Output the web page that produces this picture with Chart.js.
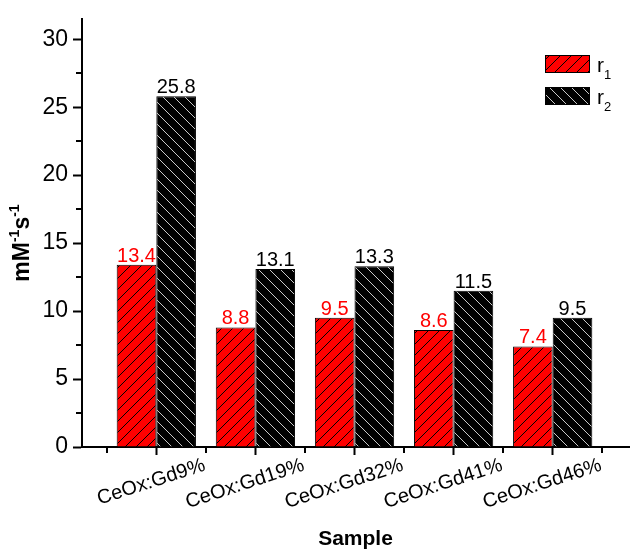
<!DOCTYPE html>
<html>
<head>
<meta charset="utf-8">
<script src="https://cdn.jsdelivr.net/npm/chart.js@4.4.0/dist/chart.umd.min.js"></script>
<style>
  html, body { margin: 0; padding: 0; background: #fff; }
</style>
</head>
<body>
<canvas id="chart" width="633" height="552"></canvas>
<script>
// data
const categories = ['CeOx:Gd9%', 'CeOx:Gd19%', 'CeOx:Gd32%', 'CeOx:Gd41%', 'CeOx:Gd46%'];
const xPositions = [1, 2, 3, 4, 5];
const xMinorTicks = [0.5, 1.5, 2.5, 3.5, 4.5, 5.5];
const r1Values = [13.4, 8.8, 9.5, 8.6, 7.4];
const r2Values = [25.8, 13.1, 13.3, 11.5, 9.5];
const yTicks = [0, 5, 10, 15, 20, 25, 30];
const yMinorTicks = [2.5, 7.5, 12.5, 17.5, 22.5, 27.5];

const FONT = "'Liberation Sans', Arial, sans-serif";
Chart.defaults.font.family = FONT;
Chart.defaults.color = '#000';

const canvas = document.getElementById('chart');
const mainCtx = canvas.getContext('2d');

/**
 * Build a diagonal hatch pattern (dir 1 = "/", -1 = "\")
 */
function makeHatch(bg, fg, dir) {
    const s = 11;
    const tile = document.createElement('canvas');
    tile.width = s;
    tile.height = s;
    const g = tile.getContext('2d');
    g.fillStyle = bg;
    g.fillRect(0, 0, s, s);
    g.strokeStyle = fg;
    g.lineWidth = 1;
    g.beginPath();
    if (dir > 0) {
        g.moveTo(0, s); g.lineTo(s, 0);
        g.moveTo(-1, 1); g.lineTo(1, -1);
        g.moveTo(s - 1, s + 1); g.lineTo(s + 1, s - 1);
    } else {
        g.moveTo(0, 0); g.lineTo(s, s);
        g.moveTo(-1, s - 1); g.lineTo(1, s + 1);
        g.moveTo(s - 1, -1); g.lineTo(s + 1, 1);
    }
    g.stroke();
    return mainCtx.createPattern(tile, 'repeat');
}

const redHatch = makeHatch('#ff0000', '#000000', 1);
const blackHatch = makeHatch('#000000', '#c8c8c8', -1);

// extra drawing: value labels, minor ticks, rotated category labels, titles, legend
const decorations = {
    id: 'decorations',
    afterDatasetsDraw(chart) {
        const ctx = chart.ctx;
        ctx.save();
        ctx.font = '20px ' + FONT;
        ctx.textAlign = 'center';
        ctx.textBaseline = 'alphabetic';
        chart.data.datasets.forEach((ds, di) => {
            const meta = chart.getDatasetMeta(di);
            ctx.fillStyle = di === 0 ? '#ff0000' : '#000000';
            meta.data.forEach((el, i) => {
                ctx.fillText(ds.data[i].y.toFixed(1), el.x, el.y - 3);
            });
        });
        ctx.restore();
    },
    afterDraw(chart) {
        const ctx = chart.ctx;
        const xs = chart.scales.x;
        const ys = chart.scales.y;
        const area = chart.chartArea;
        ctx.save();

        // minor ticks
        ctx.strokeStyle = '#000';
        ctx.lineWidth = 2;
        ctx.beginPath();
        yMinorTicks.forEach(v => {
            const py = Math.round(ys.getPixelForValue(v));
            ctx.moveTo(area.left - 6, py);
            ctx.lineTo(area.left, py);
        });
        xMinorTicks.forEach(v => {
            const px = Math.round(xs.getPixelForValue(v));
            ctx.moveTo(px, area.bottom);
            ctx.lineTo(px, area.bottom + 6);
        });
        ctx.stroke();

        // rotated category labels
        ctx.fillStyle = '#000';
        ctx.font = '20px ' + FONT;
        ctx.textAlign = 'right';
        ctx.textBaseline = 'alphabetic';
        categories.forEach((label, i) => {
            const px = xs.getPixelForValue(xPositions[i]);
            ctx.save();
            ctx.translate(px + 50, area.bottom + 23);
            ctx.rotate(-18 * Math.PI / 180);
            ctx.fillText(label, 0, 0);
            ctx.restore();
        });

        // x title
        ctx.font = 'bold 21px ' + FONT;
        ctx.textAlign = 'center';
        ctx.fillText('Sample', (area.left + area.right) / 2, 545);

        // y title with superscripts
        const mainFont = 'bold 23px ' + FONT;
        const supFont = 'bold 14px ' + FONT;
        const parts = [
            { t: 'mM', f: mainFont, dy: 0 },
            { t: '-1', f: supFont, dy: -10 },
            { t: 's', f: mainFont, dy: 0 },
            { t: '-1', f: supFont, dy: -10 }
        ];
        let total = 0;
        parts.forEach(p => { ctx.font = p.f; p.w = ctx.measureText(p.t).width; total += p.w; });
        ctx.save();
        ctx.translate(29, 243);
        ctx.rotate(-Math.PI / 2);
        ctx.textAlign = 'left';
        let cx = -total / 2;
        parts.forEach(p => {
            ctx.font = p.f;
            ctx.fillText(p.t, cx, p.dy);
            cx += p.w;
        });
        ctx.restore();

        // legend
        const items = [
            { fill: redHatch, name: 'r', sub: '1', y: 55 },
            { fill: blackHatch, name: 'r', sub: '2', y: 87 }
        ];
        items.forEach(it => {
            ctx.fillStyle = it.fill;
            ctx.fillRect(545, it.y, 44, 17);
            ctx.strokeStyle = '#000';
            ctx.lineWidth = 1;
            ctx.strokeRect(545.5, it.y + 0.5, 44, 17);
            ctx.fillStyle = '#000';
            ctx.textAlign = 'left';
            ctx.font = '21px ' + FONT;
            ctx.fillText(it.name, 597, it.y + 17);
            ctx.font = '13px ' + FONT;
            ctx.fillText(it.sub, 604, it.y + 24);
        });

        ctx.restore();
    }
};

const axisGrid = (len) => ({
    drawOnChartArea: false,
    drawTicks: true,
    tickLength: len,
    tickWidth: 2,
    tickColor: '#000',
    offset: false
});

new Chart(canvas, {
    type: 'bar',
    data: {
        datasets: [
            {
                label: 'r1',
                data: xPositions.map((x, i) => ({ x: x, y: r1Values[i] })),
                backgroundColor: redHatch,
                borderColor: '#000',
                borderWidth: 1,
                categoryPercentage: 0.8,
                barPercentage: 1.0
            },
            {
                label: 'r2',
                data: xPositions.map((x, i) => ({ x: x, y: r2Values[i] })),
                backgroundColor: blackHatch,
                borderColor: '#000',
                borderWidth: 1,
                categoryPercentage: 0.8,
                barPercentage: 1.0
            }
        ]
    },
    options: {
        responsive: false,
        animation: false,
        layout: { padding: { top: 2, right: 4, left: 0, bottom: 0 } },
        plugins: {
            legend: { display: false },
            tooltip: { enabled: false }
        },
        scales: {
            x: {
                type: 'linear',
                min: 0.25,
                max: 5.77,
                offset: false,
                ticks: { display: false },
                grid: axisGrid(8),
                border: { display: true, color: '#000', width: 2 },
                afterBuildTicks: s => { s.ticks = xPositions.map(v => ({ value: v })); },
                afterFit: s => { s.height = 105; }
            },
            y: {
                min: 0,
                max: 31.5,
                ticks: {
                    color: '#000',
                    font: { size: 23 },
                    padding: 5
                },
                grid: axisGrid(9),
                border: { display: true, color: '#000', width: 2 },
                afterBuildTicks: s => { s.ticks = yTicks.map(v => ({ value: v })); },
                afterFit: s => { s.width = 82; }
            }
        }
    },
    plugins: [decorations]
});
</script>
</body>
</html>
